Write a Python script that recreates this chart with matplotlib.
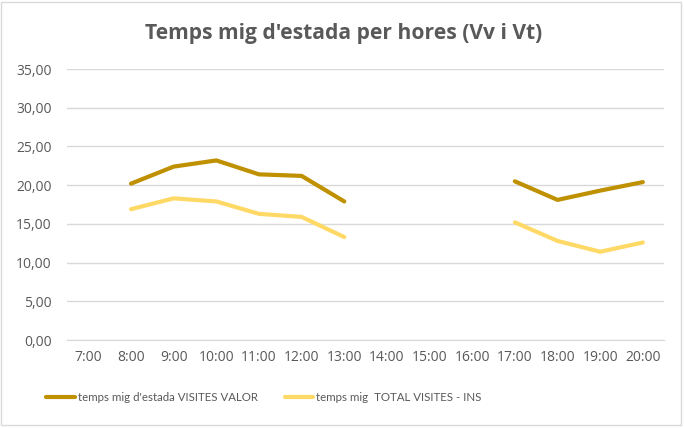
import numpy as np
import matplotlib.pyplot as plt
from matplotlib.patches import Rectangle

plt.rcParams['font.family'] = ['Open Sans', 'DejaVu Sans']

hours = ['7:00', '8:00', '9:00', '10:00', '11:00', '12:00', '13:00',
         '14:00', '15:00', '16:00', '17:00', '18:00', '19:00', '20:00']
visites_valor = [np.nan, 20.2, 22.4, 23.2, 21.4, 21.2, 17.9,
                 np.nan, np.nan, np.nan, 20.5, 18.1, 19.3, 20.4]
total_visites = [np.nan, 16.9, 18.3, 17.9, 16.3, 15.9, 13.3,
                 np.nan, np.nan, np.nan, 15.2, 12.8, 11.4, 12.6]

DARK = '#BF9000'
LIGHT = '#FFD966'
TEXT = '#595959'
GRID = '#D9D9D9'

fig = plt.figure(figsize=(6.84, 4.28), dpi=100)
fig.patches.append(Rectangle((0.002, 0.006), 0.994, 0.99, transform=fig.transFigure,
                             fill=False, edgecolor=GRID, linewidth=1))

ax = fig.add_axes([0.098, 0.2056, 0.873, 0.633])
x = np.arange(len(hours))
ax.plot(x, visites_valor, color=DARK, linewidth=3, solid_capstyle='round',
        label="temps mig d'estada VISITES VALOR")
ax.plot(x, total_visites, color=LIGHT, linewidth=3, solid_capstyle='round',
        label='temps mig  TOTAL VISITES - INS')

ax.set_xlim(-0.5, len(hours) - 0.5)
ax.set_ylim(0, 35)
ax.set_yticks(np.arange(0, 36, 5))
ax.set_yticklabels([f'{v:.2f}'.replace('.', ',') for v in np.arange(0, 36, 5)])
ax.set_xticks(x)
ax.set_xticklabels(hours)
ax.grid(axis='y', color=GRID, linewidth=1)
ax.set_axisbelow(True)
for s in ax.spines.values():
    s.set_visible(False)
ax.spines['bottom'].set_visible(True)
ax.spines['bottom'].set_color(GRID)
ax.tick_params(length=0, labelcolor=TEXT, labelsize=10)
ax.tick_params(axis='y', pad=11)
ax.tick_params(axis='x', pad=7)

fig.text(0.502, 0.922, "Temps mig d'estada per hores (Vv i Vt)", ha='center', va='center',
         fontsize=15.1, fontweight='bold', color=TEXT)

fig.legend(loc='center', bbox_to_anchor=(0.386, 0.072), ncol=2, frameon=False,
           prop={'family': ['Lato', 'DejaVu Sans'], 'size': 8.3}, labelcolor=TEXT,
           handlelength=2.5, handletextpad=0.25, columnspacing=2.3)

fig.savefig('out.png', dpi=100)
